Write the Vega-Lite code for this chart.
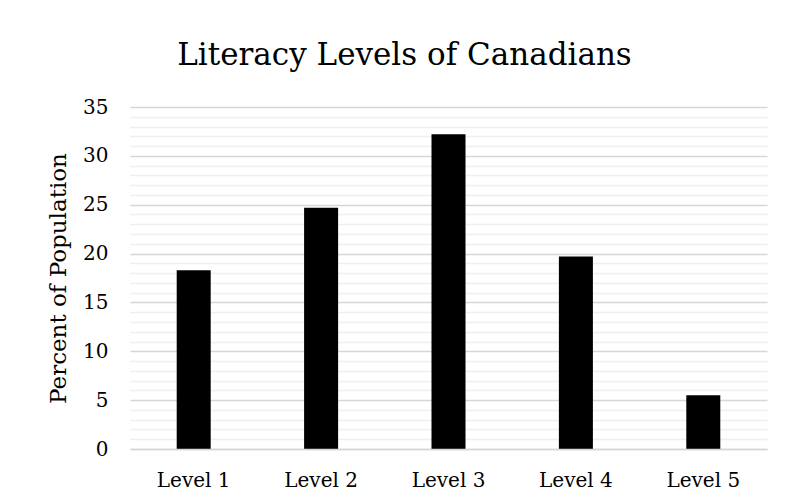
{
  "$schema": "https://vega.github.io/schema/vega-lite/v6.json",
  "autosize": "none",
  "padding": {"left": 130, "top": 107, "right": 21, "bottom": 52},
  "width": 637,
  "height": 342,
  "background": "white",
  "title": {
    "text": "Literacy Levels of Canadians",
    "font": "DejaVu Serif",
    "fontSize": 31,
    "fontWeight": "normal",
    "color": "#000000",
    "anchor": "middle",
    "frame": "group",
    "baseline": "alphabetic",
    "offset": 1,
    "dx": -44
  },
  "data": {
    "values": [
      {"level": "Level 1", "percent": 18.3},
      {"level": "Level 2", "percent": 24.7},
      {"level": "Level 3", "percent": 32.2},
      {"level": "Level 4", "percent": 19.7},
      {"level": "Level 5", "percent": 5.5}
    ]
  },
  "layer": [
    {
      "mark": {"type": "rule", "opacity": 0},
      "encoding": {
        "y": {
          "field": "percent",
          "type": "quantitative",
          "scale": {"domain": [0, 35], "nice": false, "zero": true},
          "axis": {
            "orient": "left",
            "values": [1, 2, 3, 4, 6, 7, 8, 9, 11, 12, 13, 14, 16, 17, 18, 19, 21, 22, 23, 24, 26, 27, 28, 29, 31, 32, 33, 34],
            "grid": true,
            "gridColor": "#efefef",
            "gridWidth": 1.3,
            "labels": false,
            "ticks": false,
            "domain": false,
            "title": null
          }
        }
      }
    },
    {
      "mark": {"type": "bar", "color": "#000000", "size": 34},
      "encoding": {
        "x": {
          "field": "level",
          "type": "nominal",
          "sort": null,
          "scale": {"paddingInner": 0, "paddingOuter": 0},
          "axis": {
            "title": null,
            "labelAngle": 0,
            "labelFont": "DejaVu Serif",
            "labelFontSize": 20,
            "labelColor": "#000000",
            "labelBaseline": "alphabetic",
            "labelPadding": 37,
            "ticks": false,
            "tickSize": 0,
            "domain": true,
            "domainColor": "#d6d6d6",
            "domainWidth": 1.3,
            "grid": false,
            "zindex": 1
          }
        },
        "y": {
          "field": "percent",
          "type": "quantitative",
          "scale": {"domain": [0, 35], "nice": false, "zero": true},
          "axis": {
            "orient": "left",
            "values": [0, 5, 10, 15, 20, 25, 30, 35],
            "grid": true,
            "gridColor": "#d6d6d6",
            "gridWidth": 1.3,
            "ticks": false,
            "tickSize": 0,
            "domain": false,
            "labelFont": "DejaVu Serif",
            "labelFontSize": 20,
            "labelColor": "#000000",
            "labelPadding": 22,
            "title": "Percent of Population",
            "titleFont": "DejaVu Serif",
            "titleFontSize": 23,
            "titleFontWeight": "normal",
            "titleColor": "#000000",
            "titlePadding": 12
          }
        }
      }
    }
  ],
  "resolve": {"axis": {"y": "independent"}},
  "config": {
    "view": {"stroke": null}
  }
}
